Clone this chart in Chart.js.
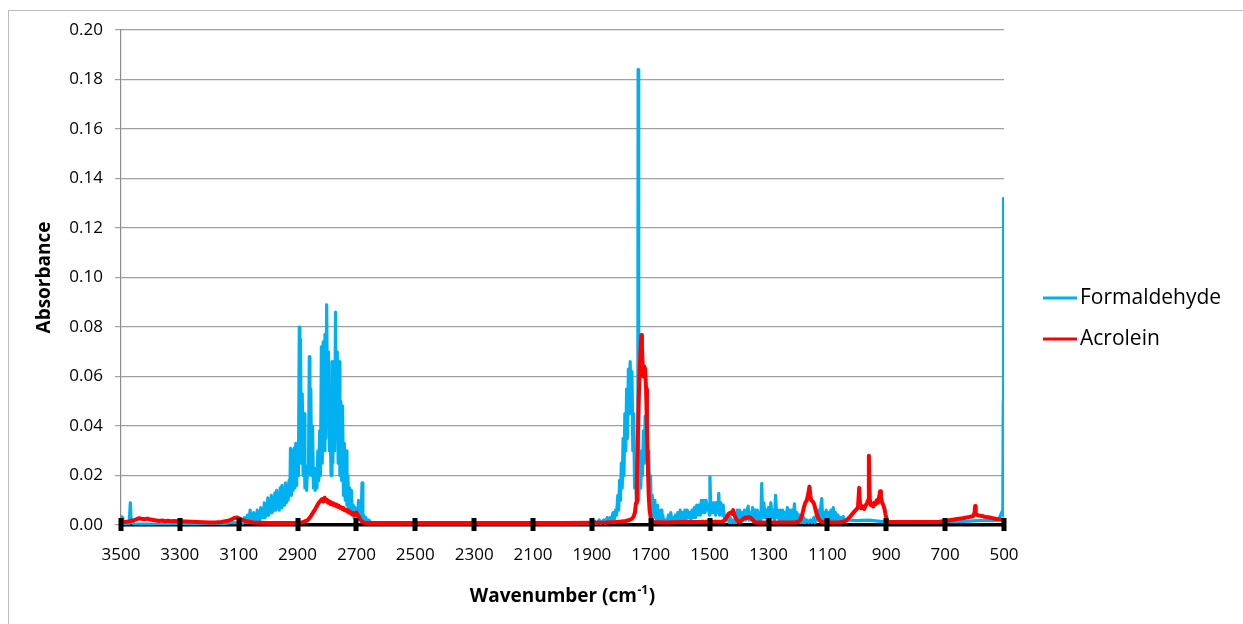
<!DOCTYPE html>
<html><head><meta charset="utf-8">
<script src="https://cdn.jsdelivr.net/npm/chart.js@4.4.1/dist/chart.umd.min.js"></script>
<style>
html,body{margin:0;padding:0;background:#fff;overflow:hidden;width:1243px;height:624px;}
#frame{position:absolute;left:8px;top:10px;width:1400px;height:800px;border:1px solid #bcbcbc;}
canvas{position:absolute;left:0;top:0;}
</style></head><body>
<div id="frame"></div>
<canvas id="c" width="1243" height="624"></canvas>
<script>
const xTickValues = [3500,3300,3100,2900,2700,2500,2300,2100,1900,1700,1500,1300,1100,900,700,500];
const seriesNames = ['Formaldehyde','Acrolein'];
const seriesColors = ['#00B0F0','#FF0000'];
const xTitle = ['Wavenumber (cm', '-1', ')'];
const yTitle = 'Absorbance';

// [wavenumber (cm-1), absorbance]
const formaldehyde = [
[3500,0.004],[3497,0.001],[3494,0.003],[3490,0.0006],[3480,0.0005],[3472,0.0006],[3468,0.009],[3465,0.001],[3455,0.0005],[3400,0.0004],[3300,0.0003],[3200,0.0004],[3150,0.0006],[3120,0.001],[3100,0.0008],[3090,0.002],[3085,0.0008],[3080,0.003],[3075,0.001],[3070,0.004],[3067,0.001],
[3064,0.003],[3061,0.006],[3058,0.002],[3055,0.004],[3052,0.002],[3049,0.005],[3046,0.002],[3043,0.004],[3040,0.002],[3037,0.006],[3034,0.002],[3031,0.004],[3028,0.002],[3025,0.007],[3022,0.003],[3019,0.005],[3016,0.003],[3013,0.009],[3010,0.003],[3007,0.008],[3004,0.004],[3001,0.011],[2998,0.004],[2995,0.009],[2992,0.005],[2989,0.012],[2986,0.005],[2983,0.01],[2980,0.006],[2977,0.013],[2974,0.006],[2971,0.014],[2968,0.007],[2965,0.012],[2962,0.006],[2959,0.015],[2956,0.007],[2953,0.016],[2950,0.008],[2947,0.014],[2944,0.008],[2941,0.017],[2938,0.009],[2935,0.016],[2932,0.01],[2929,0.018],[2926,0.012],[2924,0.031],[2921,0.012],[2918,0.03],[2915,0.014],[2912,0.031],[2909,0.015],[2906,0.033],[2903,0.016],[2900,0.032],[2897,0.02],[2894,0.08],[2892,0.03],[2890,0.075],[2887,0.025],[2884,0.053],[2881,0.02],[2878,0.045],[2875,0.015],[2872,0.022],[2869,0.014],[2866,0.024],[2863,0.02],[2860,0.068],[2858,0.025],[2855,0.055],[2852,0.02],[2849,0.04],[2846,0.015],[2843,0.022],[2840,0.014],[2837,0.023],[2834,0.015],[2831,0.03],[2828,0.018],[2825,0.038],[2822,0.02],[2819,0.072],[2816,0.025],[2813,0.074],[2810,0.03],[2807,0.077],[2804,0.035],[2801,0.089],[2798,0.04],[2795,0.07],[2792,0.03],[2789,0.04],[2786,0.02],[2783,0.066],[2780,0.025],[2777,0.066],[2774,0.03],[2771,0.086],[2768,0.035],[2765,0.07],[2762,0.025],[2759,0.066],[2756,0.02],[2753,0.05],[2750,0.018],[2747,0.048],[2744,0.012],[2741,0.033],[2738,0.01],[2735,0.03],[2732,0.008],[2729,0.02],[2726,0.006],[2723,0.015],[2720,0.005],[2717,0.014],[2714,0.004],[2711,0.008],[2708,0.003],[2705,0.007],[2702,0.003],[2699,0.006],[2696,0.002],[2693,0.01],[2690,0.003],[2687,0.006],[2684,0.002],[2681,0.017],[2678,0.002],[2675,0.004],[2672,0.001],[2668,0.003],[2664,0.001],[2658,0.002],[2650,0.0008],[2640,0.001],[2630,0.0005],[2600,0.0004],
[2400,0.0003],[2200,0.0003],[2000,0.0004],[1950,0.0005],[1920,0.0008],[1900,0.0006],[1890,0.0015],[1885,0.0005],[1875,0.002],[1870,0.0006],[1860,0.002],[1855,0.0008],[1848,0.003],[1845,0.001],[1838,0.003],[1834,0.002],[1828,0.005],[1824,0.002],[1820,0.006],[1816,0.004],[1812,0.012],[1809,0.006],[1806,0.018],[1803,0.01],[1800,0.025],[1797,0.015],[1794,0.035],[1791,0.02],[1788,0.045],[1785,0.03],[1782,0.055],[1779,0.035],[1776,0.063],[1773,0.045],[1770,0.066],[1767,0.05],[1764,0.062],[1761,0.03],[1758,0.045],[1755,0.015],[1752,0.025],[1749,0.01],[1746,0.02],[1744,0.03],[1743,0.184],[1742,0.03],[1740,0.01],[1737,0.025],[1734,0.015],[1731,0.03],[1728,0.02],[1725,0.038],[1722,0.025],[1719,0.044],[1716,0.03],[1713,0.04],[1710,0.02],[1707,0.03],[1704,0.012],[1701,0.02],[1698,0.006],[1695,0.012],[1692,0.004],[1689,0.01],[1686,0.003],[1683,0.007],[1680,0.002],[1677,0.008],[1674,0.002],[1671,0.005],[1668,0.001],[1665,0.006],[1662,0.001],[1659,0.004],[1656,0.001],[1650,0.002],
[1645,0.001],[1640,0.004],[1636,0.001],[1632,0.005],[1628,0.001],[1624,0.003],[1620,0.001],[1616,0.004],[1612,0.001],[1608,0.005],[1604,0.002],[1600,0.006],[1596,0.002],[1592,0.005],[1588,0.002],[1584,0.006],[1580,0.002],[1576,0.006],[1572,0.003],[1568,0.005],[1564,0.002],[1560,0.006],[1556,0.003],[1552,0.007],[1548,0.003],[1544,0.008],[1540,0.004],[1536,0.008],[1532,0.004],[1528,0.01],[1524,0.005],[1520,0.01],[1516,0.005],[1512,0.01],[1508,0.006],[1504,0.008],[1501,0.004],[1499,0.0195],[1496,0.005],[1492,0.009],[1488,0.005],[1484,0.009],[1480,0.004],[1476,0.009],[1472,0.005],[1469,0.0128],[1466,0.004],[1462,0.009],[1458,0.004],[1454,0.008],[1450,0.003],[1446,0.004],[1442,0.002],[1438,0.004],[1434,0.001],[1430,0.003],[1426,0.001],[1422,0.002],[1418,0.001],[1414,0.002],[1410,0.001],[1406,0.006],[1402,0.002],[1398,0.006],[1394,0.002],[1390,0.005],[1386,0.002],[1382,0.006],[1378,0.002],[1374,0.005],[1369,0.0076],[1366,0.002],[1362,0.005],[1358,0.002],[1354,0.007],[1350,0.002],[1346,0.006],[1342,0.002],[1338,0.006],[1334,0.002],[1330,0.005],[1326,0.002],[1323,0.0168],[1320,0.003],[1316,0.009],[1312,0.003],[1308,0.006],[1304,0.002],[1300,0.007],[1296,0.002],[1292,0.009],[1288,0.003],[1284,0.006],[1280,0.002],[1276,0.012],[1272,0.003],[1268,0.006],[1264,0.002],[1260,0.006],[1256,0.002],[1252,0.006],[1248,0.002],[1244,0.005],[1240,0.002],[1236,0.007],[1232,0.002],[1228,0.006],[1224,0.002],[1220,0.006],[1216,0.002],[1212,0.0085],[1208,0.002],[1204,0.005],[1200,0.002],[1196,0.004],[1192,0.001],[1188,0.004],[1184,0.001],[1180,0.003],[1176,0.001],[1170,0.002],[1164,0.001],[1158,0.002],[1152,0.001],[1146,0.003],[1142,0.001],[1138,0.004],[1134,0.002],[1130,0.006],[1126,0.002],[1122,0.008],[1119,0.0107],[1116,0.002],[1112,0.005],[1108,0.002],[1104,0.006],[1100,0.002],[1096,0.005],[1092,0.002],[1088,0.006],[1084,0.002],[1080,0.007],[1076,0.002],[1072,0.005],[1068,0.002],[1064,0.004],[1060,0.001],[1055,0.003],[1050,0.0015],[1046,0.0034],[1042,0.0015],[1030,0.002],[1000,0.0018],[960,0.002],[920,0.0015],[880,0.0012],[840,0.0012],[800,0.0013],[760,0.0012],[720,0.0013],[694,0.0015],[660,0.0014],[620,0.0016],[590,0.0018],[560,0.002],[540,0.0018],[525,0.002],[515,0.003],[508,0.005],[504,0.006],[502.5,0.05],[502,0.132],[501.5,0.05],[500.5,0.004],[500,0.003]
];

const acrolein = [
[3500,0.0013],[3490,0.0012],[3480,0.0013],[3470,0.0015],[3460,0.0018],[3450,0.0022],[3440,0.0027],[3430,0.0025],[3420,0.0023],[3410,0.0026],[3400,0.0022],[3390,0.002],[3380,0.0018],[3370,0.0016],[3360,0.0018],[3350,0.0015],[3340,0.0017],[3330,0.0015],[3320,0.0016],[3300,0.0015],[3280,0.0014],[3260,0.0013],[3240,0.0012],[3220,0.0011],[3200,0.001],[3180,0.001],[3160,0.0012],[3140,0.0016],[3125,0.0022],[3115,0.0028],[3105,0.003],[3095,0.0025],[3085,0.002],[3070,0.0014],[3050,0.001],[3000,0.0008],[2950,0.0008],[2900,0.0008],[2885,0.001],[2875,0.0015],[2865,0.002],[2858,0.003],[2850,0.0045],[2842,0.006],[2835,0.0075],[2828,0.009],[2822,0.0098],[2816,0.0105],[2812,0.0095],[2808,0.011],[2804,0.0098],[2800,0.0102],[2796,0.009],[2792,0.0095],[2788,0.0085],[2784,0.009],[2780,0.0082],[2776,0.0086],[2772,0.0078],[2768,0.0082],[2764,0.0074],[2760,0.0078],[2756,0.007],[2752,0.0072],[2748,0.0065],[2744,0.0068],[2740,0.006],[2736,0.0062],[2732,0.0055],[2728,0.0058],[2724,0.005],[2720,0.0052],[2716,0.0045],[2712,0.0048],[2708,0.004],[2704,0.0046],[2700,0.005],[2696,0.004],[2692,0.0035],[2688,0.0025],[2682,0.0015],[2675,0.001],[2665,0.0008],[2600,0.0008],[2400,0.0008],[2200,0.0008],[2000,0.0008],[1900,0.0009],[1850,0.001],[1820,0.0012],[1800,0.0014],[1785,0.0016],[1772,0.002],[1764,0.0025],[1758,0.0035],[1754,0.005],[1750,0.009],[1747,0.018],[1744,0.035],[1741,0.05],[1738,0.062],[1735,0.07],[1732,0.0768],[1730,0.072],[1728,0.066],[1725,0.06],[1722,0.064],[1719,0.063],[1716,0.055],[1713,0.04],[1710,0.025],[1707,0.012],[1704,0.006],[1700,0.003],[1695,0.0015],[1690,0.0012],[1650,0.001],[1600,0.0012],[1550,0.0012],[1500,0.0013],[1460,0.0013],[1450,0.0018],[1442,0.003],[1436,0.0045],[1430,0.005],[1424,0.0045],[1420,0.006],[1416,0.004],[1410,0.0025],[1404,0.0015],[1398,0.0012],[1392,0.0018],[1385,0.0025],[1378,0.003],[1372,0.0028],[1366,0.0032],[1360,0.0028],[1354,0.0022],[1348,0.0012],[1340,0.001],[1300,0.001],[1250,0.001],[1210,0.001],[1200,0.0013],[1192,0.002],[1186,0.004],[1180,0.007],[1175,0.009],[1170,0.01],[1165,0.0125],[1161,0.0155],[1158,0.012],[1155,0.01],[1150,0.0095],[1145,0.0085],[1140,0.006],[1135,0.004],[1130,0.0025],[1122,0.0013],[1110,0.001],[1060,0.001],[1040,0.0015],[1030,0.0025],[1022,0.0035],[1015,0.0045],[1008,0.0055],[1000,0.0065],[996,0.007],[992,0.015],[989,0.008],[985,0.0068],[980,0.0075],[975,0.0065],[970,0.008],[966,0.0085],[962,0.01],[959,0.028],[956,0.0105],[952,0.008],[948,0.0085],[944,0.0075],[940,0.009],[936,0.0085],[932,0.01],[928,0.009],[924,0.0115],[921,0.0136],[918,0.011],[914,0.009],[910,0.008],[906,0.0065],[902,0.004],[898,0.002],[893,0.0012],[880,0.0012],[850,0.0012],[800,0.0012],[750,0.0012],[720,0.0013],[700,0.0016],[680,0.002],[660,0.0024],[640,0.0027],[627,0.003],[615,0.0033],[605,0.0035],[600,0.005],[598,0.0077],[596,0.0045],[590,0.004],[580,0.0037],[570,0.0035],[560,0.0032],[550,0.003],[540,0.0028],[530,0.0025],[520,0.0022],[513,0.0023],[505,0.002],[500,0.0022]
];

const toPoints = arr => arr.map(p => ({x: p[0], y: p[1]}));
const FONT = "'Open Sans', 'DejaVu Sans', sans-serif";
Chart.defaults.font.family = FONT;
Chart.defaults.color = '#000';

const crossTicks = {
  id: 'crossTicks',
  afterDatasetsDraw(chart) {
    const ctx = chart.ctx, xs = chart.scales.x, b = chart.chartArea.bottom;
    ctx.save();
    ctx.fillStyle = '#000';
    xs.ticks.forEach(t => {
      const px = xs.getPixelForValue(t.value);
      ctx.fillRect(Math.round(px) - 2.5, b - 7, 5, 13);
    });
    ctx.restore();
  }
};

const xAxisTitle = {
  id: 'xAxisTitle',
  afterDraw(chart) {
    const ctx = chart.ctx, a = chart.chartArea;
    ctx.save();
    ctx.fillStyle = '#000';
    ctx.textBaseline = 'middle';
    ctx.textAlign = 'left';
    const main = 'bold 19px ' + FONT, sup = 'bold 12px ' + FONT;
    ctx.font = main; const w1 = ctx.measureText(xTitle[0]).width, w3 = ctx.measureText(xTitle[2]).width;
    ctx.font = sup; const w2 = ctx.measureText(xTitle[1]).width;
    const total = w1 + w2 + 1 + w3;
    let x = (a.left + a.right) / 2 - total / 2;
    const y = a.bottom + 72;
    ctx.font = main; ctx.fillText(xTitle[0], x, y); x += w1 + 0.5;
    ctx.font = sup; ctx.fillText(xTitle[1], x, y - 6); x += w2 + 0.5;
    ctx.font = main; ctx.fillText(xTitle[2], x, y);
    ctx.restore();
  }
};

const sideLegend = {
  id: 'sideLegend',
  afterDraw(chart) {
    const ctx = chart.ctx, a = chart.chartArea;
    const x0 = a.right + 39;
    const y0 = (a.top + a.bottom) / 2 + 20.5;
    ctx.save();
    ctx.font = "21px " + FONT;
    ctx.textBaseline = 'middle';
    ctx.textAlign = 'left';
    chart.data.datasets.forEach((ds, i) => {
      const y = y0 + i * 41;
      ctx.strokeStyle = ds.borderColor;
      ctx.lineWidth = 3;
      ctx.beginPath();
      ctx.moveTo(x0, y);
      ctx.lineTo(x0 + 34, y);
      ctx.stroke();
      ctx.fillStyle = '#000';
      ctx.fillText(ds.label, x0 + 37, y);
    });
    ctx.restore();
  }
};

new Chart(document.getElementById('c'), {
  type: 'scatter',
  data: {
    datasets: [
      {label: seriesNames[0], data: toPoints(formaldehyde), borderColor: seriesColors[0], backgroundColor: seriesColors[0], showLine: true, borderWidth: 3.2, pointRadius: 0, order: 1, borderJoinStyle: 'round'},
      {label: seriesNames[1], data: toPoints(acrolein), borderColor: seriesColors[1], backgroundColor: seriesColors[1], showLine: true, borderWidth: 4, pointRadius: 0, order: 0, borderJoinStyle: 'round'}
    ]
  },
  options: {
    responsive: false,
    animation: false,
    events: [],
    layout: {padding: {left: 10, top: 30, right: 239, bottom: 38.6}},
    plugins: {legend: {display: false}, tooltip: {enabled: false}},
    scales: {
      x: {
        type: 'linear', min: 500, max: 3500, reverse: true,
        afterBuildTicks: s => { s.ticks = xTickValues.map(v => ({value: v})); },
        grid: {display: false, drawTicks: false},
        border: {display: true, color: '#000', width: 3.5},
        ticks: {autoSkip: false, maxRotation: 0, padding: 20, font: {size: 17}, callback: v => String(v)},
        title: {display: false}
      },
      y: {
        min: 0, max: 0.2,
        ticks: {stepSize: 0.02, padding: 12, font: {size: 17}, callback: v => v.toFixed(2)},
        grid: {color: '#a0a0a0', lineWidth: 1.2, tickLength: 6, drawTicks: true},
        border: {display: true, color: '#8c8c8c', width: 1.2},
        title: {display: true, text: yTitle, font: {size: 19, weight: 'bold'}, padding: {top: 23, bottom: 1.5}}
      }
    }
  },
  plugins: [crossTicks, xAxisTitle, sideLegend]
});
</script>
</body></html>
